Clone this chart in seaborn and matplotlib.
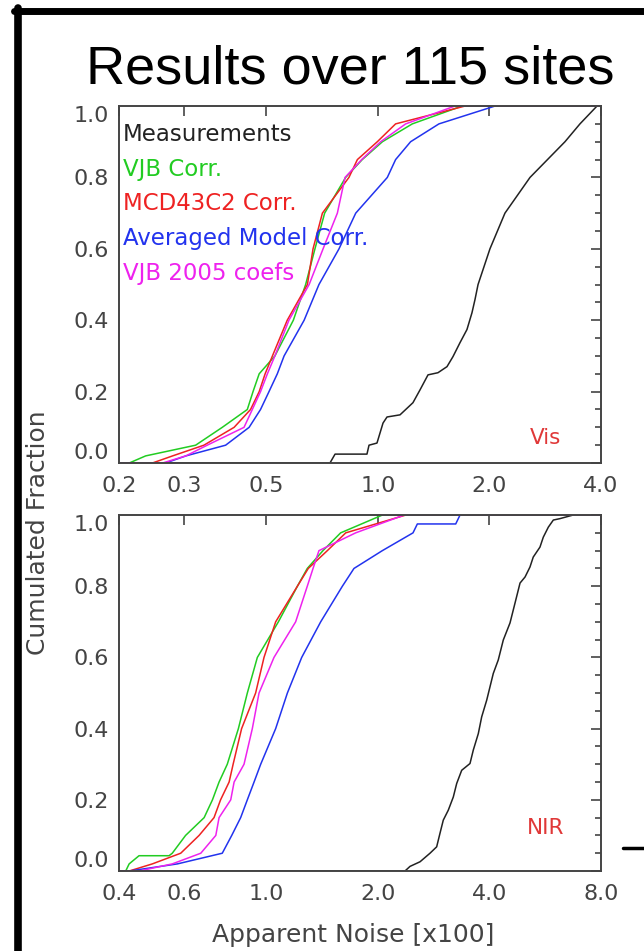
import numpy as np
import pandas as pd
import matplotlib
matplotlib.use("Agg")
import matplotlib.pyplot as plt
import seaborn as sns
from matplotlib.lines import Line2D
from matplotlib.ticker import MultipleLocator, NullLocator

# ---- Vis panel: cumulated fraction vs apparent noise ----
vis_meas_x = [0.742, 0.766, 0.934, 0.946, 0.994, 1.032, 1.058, 1.147, 1.243, 1.299, 1.365, 1.452,
              1.536, 1.594, 1.665, 1.739, 1.794, 1.828, 1.863, 2.006, 2.202, 2.573, 3.198, 3.510, 3.902, 4.0]
vis_meas_y = [0.0, 0.025, 0.025, 0.05, 0.056, 0.112, 0.129, 0.135, 0.169, 0.205, 0.247, 0.253,
              0.270, 0.298, 0.337, 0.374, 0.421, 0.458, 0.50, 0.60, 0.70, 0.80, 0.90, 0.95, 1.0, 1.0]

frac = [0.0, 0.02, 0.05, 0.1, 0.15, 0.2, 0.25, 0.3, 0.4, 0.5, 0.6, 0.7, 0.8, 0.85, 0.9, 0.95, 1.0]

vis_vjb_x = [0.213, 0.236, 0.322, 0.380, 0.444, 0.460, 0.478, 0.527, 0.591, 0.638, 0.676, 0.718,
             0.818, 0.907, 1.028, 1.238, 1.686]
vis_mcd_x = [0.246, 0.279, 0.339, 0.409, 0.453, 0.478, 0.496, 0.519, 0.569, 0.645, 0.668, 0.708,
             0.835, 0.880, 0.996, 1.116, 1.718]
vis_avg_x = [0.267, 0.303, 0.388, 0.449, 0.482, 0.508, 0.535, 0.558, 0.632, 0.693, 0.785, 0.871,
             1.060, 1.116, 1.225, 1.461, 2.070]
vis_2005_x = [0.262, 0.303, 0.346, 0.435, 0.458, 0.482, 0.503, 0.527, 0.575, 0.652, 0.711, 0.777,
              0.815, 0.904, 1.017, 1.188, 1.614]

# ---- NIR panel ----
nir_meas_x = [2.366, 2.441, 2.598, 2.764, 2.881, 2.941, 3.002, 3.097, 3.195, 3.263, 3.366, 3.544,
              3.618, 3.732, 3.811, 3.932, 4.096, 4.225, 4.359, 4.545, 4.689, 4.837, 4.990, 5.145,
              5.251, 5.475, 5.590, 5.767, 5.949, 6.200, 6.723, 8.0]
nir_meas_y = [0.0, 0.013, 0.026, 0.05, 0.068, 0.106, 0.143, 0.171, 0.208, 0.246, 0.283, 0.302,
              0.340, 0.386, 0.433, 0.480, 0.555, 0.593, 0.649, 0.697, 0.753, 0.809, 0.826, 0.854,
              0.882, 0.910, 0.938, 0.966, 0.986, 0.990, 1.0, 1.0]

nir_vjb_x = [0.417, 0.426, 0.453, 0.546, 0.557, 0.605, 0.679, 0.715, 0.745, 0.784, 0.840, 0.888,
             0.945, 1.077, 1.212, 1.289, 1.421, 1.586, 2.055]
nir_vjb_y = [0.0, 0.02, 0.043, 0.043, 0.05, 0.1, 0.15, 0.2, 0.25, 0.3, 0.4, 0.5,
             0.6, 0.7, 0.8, 0.85, 0.9, 0.95, 1.0]
nir_mcd_x = [0.426, 0.492, 0.587, 0.658, 0.722, 0.752, 0.793, 0.813, 0.857, 0.935, 0.985, 1.059,
             1.212, 1.297, 1.460, 1.637, 2.376]
nir_avg_x = [0.426, 0.575, 0.760, 0.806, 0.852, 0.888, 0.926, 0.965, 1.059, 1.139, 1.245, 1.401,
             1.603, 1.723, 2.055, 2.487, 2.555, 3.243, 3.331]
nir_avg_y = [0.0, 0.02, 0.05, 0.1, 0.15, 0.2, 0.25, 0.3, 0.4, 0.5, 0.6, 0.7,
             0.8, 0.85, 0.9, 0.95, 0.975, 0.975, 1.0]
nir_2005_x = [0.453, 0.557, 0.665, 0.730, 0.745, 0.801, 0.818, 0.870, 0.916, 0.955, 1.048, 1.199,
              1.289, 1.336, 1.386, 1.741, 2.352]

labels = ["Measurements", "VJB Corr.", "MCD43C2 Corr.", "Averaged Model Corr.", "VJB 2005 coefs"]
colors = ["#222222", "#22cc22", "#ee2222", "#2233ee", "#ee22ee"]

vis_ticks = [0.2, 0.3, 0.5, 1.0, 2.0, 4.0]
nir_ticks = [0.4, 0.6, 1.0, 2.0, 4.0, 8.0]

sns.set_style("white")
plt.rcParams["font.family"] = ["DejaVu Sans"]

fig = plt.figure(figsize=(6.44, 9.51), dpi=100)
ax_vis = fig.add_axes([0.1848, 0.5131, 0.7484, 0.3754])
ax_nir = fig.add_axes([0.1848, 0.0841, 0.7484, 0.3743])


def draw_panel(ax, xmin, xmax, series, ticks, tag):
    for (xs, ys), col in zip(series, colors):
        xs = [xmin] + list(xs) + [xmax]
        ys = [0.0] + list(ys) + [1.0]
        sns.lineplot(x=xs, y=ys, ax=ax, color=col, lw=1.1, sort=False, estimator=None)
    ax.set_xscale("log")
    ax.set_xlim(xmin, xmax)
    ax.set_ylim(0, 1.0)
    ax.set_xticks(ticks, [f"{t:.1f}" for t in ticks])
    ax.xaxis.set_minor_locator(NullLocator())
    ax.yaxis.set_major_locator(MultipleLocator(0.2))
    ax.yaxis.set_minor_locator(MultipleLocator(0.05))
    ax.set_yticks([0, 0.2, 0.4, 0.6, 0.8, 1.0], ["0.0", "0.2", "0.4", "0.6", "0.8", "1.0"])
    ax.tick_params(axis="both", which="both", direction="in", top=True, right=True,
                   colors="#444444", labelcolor="#444444", labelsize=16)
    ax.tick_params(axis="y", which="major", length=7, width=1.2, pad=7)
    ax.tick_params(axis="y", which="minor", length=4, width=1.2)
    ax.tick_params(axis="x", which="major", length=7, width=1.2, pad=9)
    ylabs = ax.get_yticklabels()
    ylabs[0].set_va("bottom")
    ylabs[-1].set_va("top")
    for s in ax.spines.values():
        s.set_color("#444444")
        s.set_linewidth(1.4)
    ax.set_xlabel("")
    ax.set_ylabel("")
    ax.text(0.885, 0.07 if tag == "Vis" else 0.12, tag, transform=ax.transAxes,
            color="#e03838", fontsize=15.5, ha="center", va="center")


vis_series = [(vis_meas_x, vis_meas_y), (vis_vjb_x, frac), (vis_mcd_x, frac),
              (vis_avg_x, frac), (vis_2005_x, frac)]
nir_series = [(nir_meas_x, nir_meas_y), (nir_vjb_x, nir_vjb_y), (nir_mcd_x, frac),
              (nir_avg_x, nir_avg_y), (nir_2005_x, frac)]

draw_panel(ax_vis, 0.2, 4.0, vis_series, vis_ticks, "Vis")
draw_panel(ax_nir, 0.4, 8.0, nir_series, nir_ticks, "NIR")

for i, (lab, col) in enumerate(zip(labels, colors)):
    ax_vis.text(0.008, 0.92 - i * 0.097, lab, transform=ax_vis.transAxes, color=col,
                fontsize=16.5, ha="left", va="center")

fig.text(353 / 644, 1 - 935 / 951, "Apparent Noise [x100]", fontsize=18, color="#444444",
         ha="center", va="center")
fig.text(38 / 644, 1 - 533 / 951, "Cumulated Fraction", rotation=90, fontsize=18,
         color="#444444", ha="center", va="center")

fig.text(350 / 644, 1 - 70 / 951, "Results over 115 sites", fontsize=39,
         family="Liberation Sans", ha="center", va="center", color="black")

# slide frame
fig.add_artist(Line2D([14 / 644, 1.0], [1 - 11 / 951, 1 - 11 / 951], color="black", lw=5,
                      transform=fig.transFigure))
fig.add_artist(Line2D([18 / 644, 18 / 644], [0, 1 - 8 / 951], color="black", lw=5.5,
                      transform=fig.transFigure))
fig.add_artist(Line2D([623 / 644, 1.0], [1 - 848 / 951, 1 - 848 / 951], color="black", lw=2.5,
                      transform=fig.transFigure))

fig.savefig("out.png", dpi=100)
